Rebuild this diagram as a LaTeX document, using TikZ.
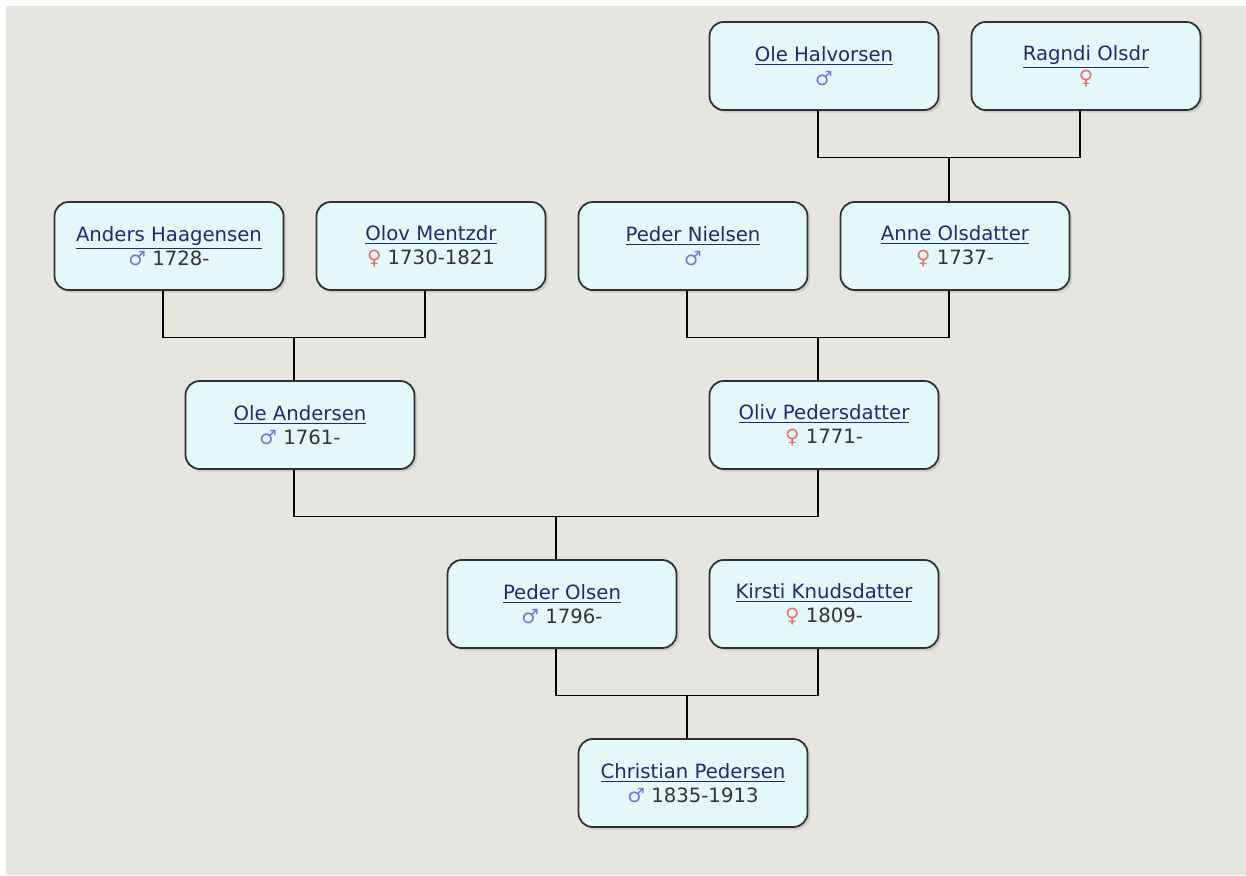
\documentclass[tikz,border=0pt]{standalone}
\usepackage{fontspec}
\setmainfont{DejaVu Sans}
\usetikzlibrary{shadows}

\definecolor{pozadi}{HTML}{E6E5DF}
\definecolor{vypln}{HTML}{E2F8FA}
\definecolor{ramecek}{HTML}{303030}
\definecolor{jmenobarva}{HTML}{1F2A70}
\definecolor{muzbarva}{HTML}{6C78D8}
\definecolor{zenabarva}{HTML}{EE6A6A}
\definecolor{rokbarva}{HTML}{333333}

\newcommand{\jmeno}[1]{\textcolor{jmenobarva}{\underline{#1}}}
\newcommand{\muz}{\textcolor{muzbarva}{♂}}
\newcommand{\zena}{\textcolor{zenabarva}{♀}}
\newcommand{\rok}[1]{\textcolor{rokbarva}{#1}}

\begin{document}
\begin{tikzpicture}[
        x=0.02cm, y=-0.02cm,
        person/.style={draw=ramecek, line width=1pt, fill=vypln,
            rounded corners=8pt, minimum width=4.58cm, minimum height=1.76cm,
            align=center, font=\fontsize{11.2}{13.5}\selectfont,
            drop shadow={shadow xshift=1.5pt, shadow yshift=-1.5pt, opacity=0.25}},
        link/.style={black, line width=0.7pt}
    ]
    % Pozadí
    \fill[white] (0,0) rectangle (1246,875);
    \fill[pozadi] (6,6) rectangle (1246,875);

    % Osoby
    \node[person] (oleH) at (824,66) {\jmeno{Ole Halvorsen}\\\muz};
    \node[person] (ragndi) at (1086,66) {\jmeno{Ragndi Olsdr}\\\zena};

    \node[person] (anders) at (169,246) {\jmeno{Anders Haagensen}\\\muz\ \rok{1728-}};
    \node[person] (olov) at (431,246) {\jmeno{Olov Mentzdr}\\\zena\ \rok{1730-1821}};
    \node[person] (pederN) at (693,246) {\jmeno{Peder Nielsen}\\\muz};
    \node[person] (anne) at (955,246) {\jmeno{Anne Olsdatter}\\\zena\ \rok{1737-}};

    \node[person] (oleA) at (300,425) {\jmeno{Ole Andersen}\\\muz\ \rok{1761-}};
    \node[person] (oliv) at (824,425) {\jmeno{Oliv Pedersdatter}\\\zena\ \rok{1771-}};

    \node[person] (pederO) at (562,604) {\jmeno{Peder Olsen}\\\muz\ \rok{1796-}};
    \node[person] (kirsti) at (824,604) {\jmeno{Kirsti Knudsdatter}\\\zena\ \rok{1809-}};

    \node[person] (christian) at (693,783) {\jmeno{Christian Pedersen}\\\muz\ \rok{1835-1913}};

    % Spojnice rodičů a dětí
    \draw[link] ([xshift=-1.2mm]oleH.south) -- ++(0,47) coordinate (b1) -| ([xshift=-1.2mm]ragndi.south);
    \draw[link] ([xshift=-1.2mm]anne.north) -- ([xshift=-1.2mm]anne.north |- b1);

    \draw[link] ([xshift=-1.2mm]anders.south) -- ++(0,47) coordinate (b2) -| ([xshift=-1.2mm]olov.south);
    \draw[link] ([xshift=-1.2mm]oleA.north) -- ([xshift=-1.2mm]oleA.north |- b2);

    \draw[link] ([xshift=-1.2mm]pederN.south) -- ++(0,47) coordinate (b3) -| ([xshift=-1.2mm]anne.south);
    \draw[link] ([xshift=-1.2mm]oliv.north) -- ([xshift=-1.2mm]oliv.north |- b3);

    \draw[link] ([xshift=-1.2mm]oleA.south) -- ++(0,47) coordinate (b4) -| ([xshift=-1.2mm]oliv.south);
    \draw[link] ([xshift=-1.2mm]pederO.north) -- ([xshift=-1.2mm]pederO.north |- b4);

    \draw[link] ([xshift=-1.2mm]pederO.south) -- ++(0,47) coordinate (b5) -| ([xshift=-1.2mm]kirsti.south);
    \draw[link] ([xshift=-1.2mm]christian.north) -- ([xshift=-1.2mm]christian.north |- b5);

    \end{tikzpicture}
\end{document}
